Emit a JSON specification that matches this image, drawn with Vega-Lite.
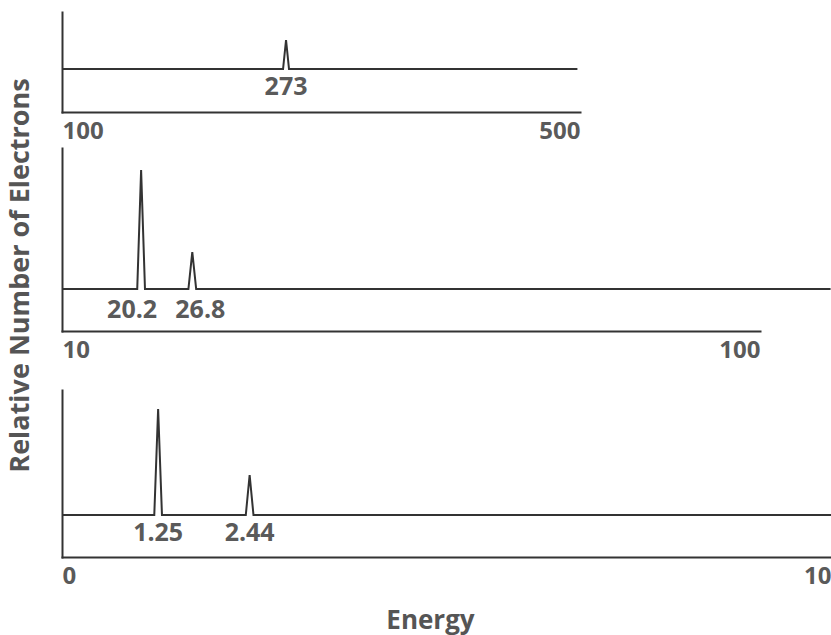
{
  "$schema": "https://vega.github.io/schema/vega-lite/v6.json",
  "width": 831,
  "height": 635,
  "padding": 0,
  "autosize": {"type": "pad"},
  "background": "white",
  "config": {
    "view": {"stroke": null},
    "axis": {
      "domainColor": "#333333",
      "domainWidth": 2,
      "domainCap": "square",
      "ticks": false,
      "tickSize": 0,
      "grid": false,
      "labelFont": "Open Sans",
      "labelFontSize": 24,
      "labelFontWeight": 700,
      "labelColor": "#5a5a5a",
      "labelBaseline": "alphabetic",
      "labelPadding": 26,
      "labelFlush": true,
      "labelFlushOffset": 0,
      "titleFont": "Open Sans",
      "titleFontWeight": 700,
      "titleColor": "#555555"
    },
    "text": {"font": "Open Sans", "fontSize": 25, "fontWeight": 700, "color": "#5a5a5a", "baseline": "alphabetic", "align": "center"},
    "line": {"color": "#333333", "strokeWidth": 2}
  },
  "datasets": {
    "spectrum": [
      {"panel": 1, "energy": 100, "count": 0},
      {"panel": 1, "energy": 270.7, "count": 0},
      {"panel": 1, "energy": 273, "count": 2.9},
      {"panel": 1, "energy": 275.3, "count": 0},
      {"panel": 1, "energy": 498, "count": 0},
      {"panel": 2, "energy": 10, "count": 0},
      {"panel": 2, "energy": 19.7, "count": 0},
      {"panel": 2, "energy": 20.2, "count": 11.9},
      {"panel": 2, "energy": 20.7, "count": 0},
      {"panel": 2, "energy": 26.3, "count": 0},
      {"panel": 2, "energy": 26.8, "count": 3.7},
      {"panel": 2, "energy": 27.3, "count": 0},
      {"panel": 2, "energy": 109.1, "count": 0},
      {"panel": 3, "energy": 0, "count": 0},
      {"panel": 3, "energy": 1.2, "count": 0},
      {"panel": 3, "energy": 1.25, "count": 10.6},
      {"panel": 3, "energy": 1.3, "count": 0},
      {"panel": 3, "energy": 2.39, "count": 0},
      {"panel": 3, "energy": 2.44, "count": 4.0},
      {"panel": 3, "energy": 2.49, "count": 0},
      {"panel": 3, "energy": 10, "count": 0}
    ],
    "peaks": [
      {"panel": 1, "energy": 273, "label": "273"},
      {"panel": 2, "energy": 20.2, "label": "20.2"},
      {"panel": 2, "energy": 26.8, "label": "26.8"},
      {"panel": 3, "energy": 1.25, "label": "1.25"},
      {"panel": 3, "energy": 2.44, "label": "2.44"}
    ]
  },
  "layer": [
    {
      "layer": [
        {
          "data": {"name": "spectrum"},
          "transform": [{"filter": "datum.panel == 1"}],
          "mark": {"type": "line"},
          "encoding": {
            "x": {"field": "energy", "type": "quantitative",
                  "scale": {"domain": [100, 500], "range": [62, 580], "nice": false, "zero": false},
                  "axis": {"orient": "bottom", "offset": -523, "values": [100, 500], "format": "d", "title": null}},
            "y": {"field": "count", "type": "quantitative",
                  "scale": {"domain": [-4.3, 5.7], "range": [112, 12], "nice": false, "zero": false},
                  "axis": {"orient": "left", "offset": -62, "labels": false, "title": null}}
          }
        },
        {
          "data": {"name": "peaks"},
          "transform": [{"filter": "datum.panel == 1"}],
          "mark": {"type": "text", "dy": 26},
          "encoding": {
            "x": {"field": "energy", "type": "quantitative"},
            "y": {"datum": 0, "type": "quantitative"},
            "text": {"field": "label"}
          }
        }
      ]
    },
    {
      "layer": [
        {
          "data": {"name": "spectrum"},
          "transform": [{"filter": "datum.panel == 2"}],
          "mark": {"type": "line"},
          "encoding": {
            "x": {"field": "energy", "type": "quantitative",
                  "scale": {"domain": [10, 100], "range": [62, 760], "nice": false, "zero": false},
                  "axis": {"orient": "bottom", "offset": -304, "values": [10, 100], "format": "d", "title": null}},
            "y": {"field": "count", "type": "quantitative",
                  "scale": {"domain": [-4.2, 14.1], "range": [331, 148], "nice": false, "zero": false},
                  "axis": {"orient": "left", "offset": -62, "labels": false,
                           "title": "Relative Number of Electrons", "titleFontSize": 27,
                           "titleAngle": 270, "titleAlign": "center", "titleBaseline": "alphabetic",
                           "titleX": -34, "titleY": 275}}
          }
        },
        {
          "data": {"name": "peaks"},
          "transform": [{"filter": "datum.panel == 2 && datum.label == '20.2'"}],
          "mark": {"type": "text", "dy": 29, "dx": -9},
          "encoding": {
            "x": {"field": "energy", "type": "quantitative"},
            "y": {"datum": 0, "type": "quantitative"},
            "text": {"field": "label"}
          }
        },
        {
          "data": {"name": "peaks"},
          "transform": [{"filter": "datum.panel == 2 && datum.label == '26.8'"}],
          "mark": {"type": "text", "dy": 29, "dx": 8},
          "encoding": {
            "x": {"field": "energy", "type": "quantitative"},
            "y": {"datum": 0, "type": "quantitative"},
            "text": {"field": "label"}
          }
        }
      ]
    },
    {
      "layer": [
        {
          "data": {"name": "spectrum"},
          "transform": [{"filter": "datum.panel == 3"}],
          "mark": {"type": "line"},
          "encoding": {
            "x": {"field": "energy", "type": "quantitative",
                  "scale": {"domain": [0, 10], "range": [62, 831], "nice": false, "zero": false},
                  "axis": {"orient": "bottom", "offset": -78, "values": [0, 10], "format": "d",
                           "title": "Energy", "titleFontSize": 26, "titleAlign": "center",
                           "titleBaseline": "alphabetic", "titleX": 430, "titleY": 71}},
            "y": {"field": "count", "type": "quantitative",
                  "scale": {"domain": [-4.2, 12.5], "range": [557, 390], "nice": false, "zero": false},
                  "axis": {"orient": "left", "offset": -62, "labels": false, "title": null}}
          }
        },
        {
          "data": {"name": "peaks"},
          "transform": [{"filter": "datum.panel == 3"}],
          "mark": {"type": "text", "dy": 26},
          "encoding": {
            "x": {"field": "energy", "type": "quantitative"},
            "y": {"datum": 0, "type": "quantitative"},
            "text": {"field": "label"}
          }
        }
      ]
    }
  ],
  "resolve": {
    "scale": {"x": "independent", "y": "independent"},
    "axis": {"x": "independent", "y": "independent"}
  }
}
